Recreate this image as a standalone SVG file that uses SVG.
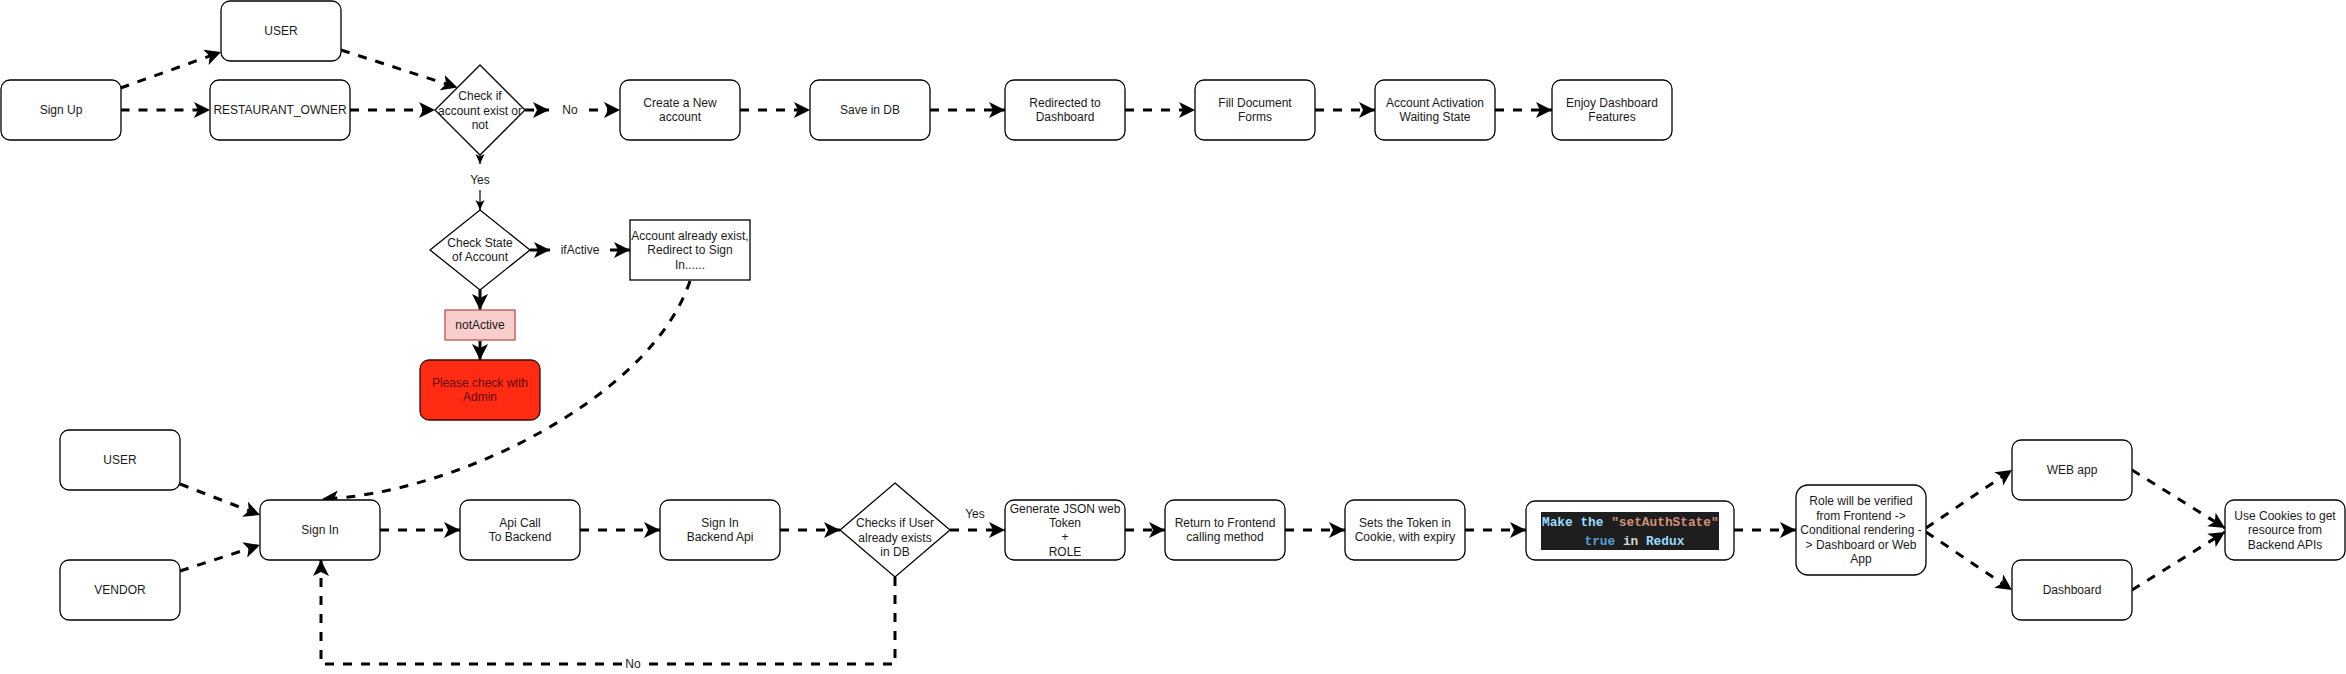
<svg xmlns="http://www.w3.org/2000/svg" width="2346" height="674" viewBox="0 0 2346 674">
<defs>
<style>
.box{fill:#fff;stroke:#000;stroke-width:1.3}
.t{font-family:"Liberation Sans",Arial,sans-serif;font-size:12px;fill:#1a1a1a;text-anchor:middle}
.d{fill:none;stroke:#000;stroke-width:3;stroke-dasharray:9 9}
.s{fill:none;stroke:#000;stroke-width:3}
.thin{fill:none;stroke:#000;stroke-width:1.2}
.code{font-family:"Liberation Mono","DejaVu Sans Mono",monospace;font-size:12.8px;font-weight:bold}
</style>
<marker id="ah" markerUnits="userSpaceOnUse" markerWidth="17" markerHeight="17" refX="16" refY="8" orient="auto" viewBox="0 0 17 17">
<path d="M0,0 L16,8 L0,16 L4,8 Z" fill="#000"/>
</marker>
<marker id="ahs" markerUnits="userSpaceOnUse" markerWidth="11" markerHeight="11" refX="10" refY="4.5" orient="auto" viewBox="0 0 11 11">
<path d="M0,0 L10,4.5 L0,9 L2.5,4.5 Z" fill="#000"/>
</marker>
</defs>
<rect width="2346" height="674" fill="#fff"/>

<g id="connectors">
<path class="d" d="M120.5,88 L221,52" marker-end="url(#ah)"/>
<path class="d" d="M120.5,110 L210,110" marker-end="url(#ah)"/>
<path class="d" d="M341,50 L457.5,87.5" marker-end="url(#ah)"/>
<path class="d" d="M350,110 L435,110" marker-end="url(#ah)"/>
<path class="d" d="M525,110 L549,110" marker-end="url(#ah)"/>
<path class="d" d="M589,110 L620,110" marker-end="url(#ah)"/>
<path class="d" d="M740,110 L810,110" marker-end="url(#ah)"/>
<path class="d" d="M930,110 L1005,110" marker-end="url(#ah)"/>
<path class="d" d="M1125,110 L1195,110" marker-end="url(#ah)"/>
<path class="d" d="M1315,110 L1375,110" marker-end="url(#ah)"/>
<path class="d" d="M1495,110 L1552,110" marker-end="url(#ah)"/>
<path class="thin" d="M480,155 L480,164" marker-end="url(#ahs)"/>
<path class="thin" d="M480,190 L480,210" marker-end="url(#ahs)"/>
<path class="s" d="M530,250 L550,250" marker-end="url(#ah)"/>
<path class="s" d="M610,250 L630,250" marker-end="url(#ah)"/>
<path class="s" d="M480,290 L480,310" marker-end="url(#ah)"/>
<path class="s" d="M480,341 L480,360" marker-end="url(#ah)"/>
<path class="d" d="M690,281 C650,400 450,495 322,499" marker-end="url(#ah)"/>
<path class="d" d="M180,484 L260,515" marker-end="url(#ah)"/>
<path class="d" d="M180,571 L260,545" marker-end="url(#ah)"/>
<path class="d" d="M380,530 L460,530" marker-end="url(#ah)"/>
<path class="d" d="M580,530 L660,530" marker-end="url(#ah)"/>
<path class="d" d="M780,530 L840,530" marker-end="url(#ah)"/>
<path class="d" d="M950,530 L1005,530" marker-end="url(#ah)"/>
<path class="d" d="M1125,530 L1165,530" marker-end="url(#ah)"/>
<path class="d" d="M1285,530 L1345,530" marker-end="url(#ah)"/>
<path class="d" d="M1465,530 L1526,530" marker-end="url(#ah)"/>
<path class="d" d="M1734,530 L1796,530" marker-end="url(#ah)"/>
<path class="d" d="M1926,528 L2012,470" marker-end="url(#ah)"/>
<path class="d" d="M1926,532 L2012,590" marker-end="url(#ah)"/>
<path class="d" d="M2132,470 L2225,528" marker-end="url(#ah)"/>
<path class="d" d="M2132,590 L2225,532" marker-end="url(#ah)"/>
<path class="d" d="M895,577 L895,664 L321,664 L321,560" marker-end="url(#ah)"/>
<rect x="623" y="657" width="20" height="14" fill="#fff"/>
<text class="t" x="633" y="668">No</text>
</g>

<g id="signup"><rect class="box" x="1" y="80" width="120" height="60" rx="9"/><text class="t" x="61" y="114">Sign Up</text></g>
<g id="user1"><rect class="box" x="221" y="1" width="120" height="60" rx="9"/><text class="t" x="281" y="35">USER</text></g>
<g id="owner"><rect class="box" x="210" y="80" width="140" height="60" rx="9"/><text class="t" x="280" y="114">RESTAURANT_OWNER</text></g>
<g id="check1"><path class="box" d="M480,65 L525,110 L480,155 L435,110 Z"/><text class="t" x="480" y="100.2">Check if</text><text class="t" x="480" y="114.6">account exist or</text><text class="t" x="480" y="129">not</text></g>
<g id="no1"><text class="t" x="570" y="114">No</text></g>
<g id="create"><rect class="box" x="620" y="80" width="120" height="60" rx="9"/><text class="t" x="680" y="107">Create a New</text><text class="t" x="680" y="121.4">account</text></g>
<g id="save"><rect class="box" x="810" y="80" width="120" height="60" rx="9"/><text class="t" x="870" y="114">Save in DB</text></g>
<g id="redirected"><rect class="box" x="1005" y="80" width="120" height="60" rx="9"/><text class="t" x="1065" y="107">Redirected to</text><text class="t" x="1065" y="121.4">Dashboard</text></g>
<g id="fill"><rect class="box" x="1195" y="80" width="120" height="60" rx="9"/><text class="t" x="1255" y="107">Fill Document</text><text class="t" x="1255" y="121.4">Forms</text></g>
<g id="activation"><rect class="box" x="1375" y="80" width="120" height="60" rx="9"/><text class="t" x="1435" y="107">Account Activation</text><text class="t" x="1435" y="121.4">Waiting State</text></g>
<g id="enjoy"><rect class="box" x="1552" y="80" width="120" height="60" rx="9"/><text class="t" x="1612" y="107">Enjoy Dashboard</text><text class="t" x="1612" y="121.4">Features</text></g>
<g id="yes1"><text class="t" x="480" y="184">Yes</text></g>
<g id="check2"><path class="box" d="M480,210 L530,250 L480,290 L430,250 Z"/><text class="t" x="480" y="247">Check State</text><text class="t" x="480" y="261.4">of Account</text></g>
<g id="ifactive"><text class="t" x="580" y="254">ifActive</text></g>
<g id="exist"><rect class="box" x="630" y="220" width="120" height="60"/><text class="t" x="690" y="239.8">Account already exist,</text><text class="t" x="690" y="254.2">Redirect to Sign</text><text class="t" x="690" y="268.6">In......</text></g>
<g id="notactive"><rect x="445" y="310" width="70" height="30" fill="#f8cecc" stroke="#b85450" stroke-width="1.3"/><text class="t" x="480" y="329">notActive</text></g>
<g id="admin"><rect x="420" y="360" width="120" height="60" rx="9" fill="#ff2b12" stroke="#3a0a0a" stroke-width="1.3"/><text class="t" x="480" y="387" style="fill:#6a0606">Please check with</text><text class="t" x="480" y="401.4" style="fill:#6a0606">Admin</text></g>

<g id="user2"><rect class="box" x="60" y="430" width="120" height="60" rx="9"/><text class="t" x="120" y="464">USER</text></g>
<g id="vendor"><rect class="box" x="60" y="560" width="120" height="60" rx="9"/><text class="t" x="120" y="594">VENDOR</text></g>
<g id="signin"><rect class="box" x="260" y="500" width="120" height="60" rx="9"/><text class="t" x="320" y="534">Sign In</text></g>
<g id="apicall"><rect class="box" x="460" y="500" width="120" height="60" rx="9"/><text class="t" x="520" y="527">Api Call</text><text class="t" x="520" y="541.4">To Backend</text></g>
<g id="backend"><rect class="box" x="660" y="500" width="120" height="60" rx="9"/><text class="t" x="720" y="527">Sign In</text><text class="t" x="720" y="541.4">Backend Api</text></g>
<g id="check3"><path class="box" d="M895,483 L950,530 L895,577 L840,530 Z"/><text class="t" x="895" y="527">Checks if User</text><text class="t" x="895" y="541.6">already exists</text><text class="t" x="895" y="556">in DB</text></g>
<g id="yes2"><text class="t" x="975" y="518">Yes</text></g>
<g id="jwt"><rect class="box" x="1005" y="500" width="120" height="60" rx="9"/><text class="t" x="1065" y="512.6">Generate JSON web</text><text class="t" x="1065" y="527">Token</text><text class="t" x="1065" y="541.4">+</text><text class="t" x="1065" y="555.8">ROLE</text></g>
<g id="return"><rect class="box" x="1165" y="500" width="120" height="60" rx="9"/><text class="t" x="1225" y="527">Return to Frontend</text><text class="t" x="1225" y="541.4">calling method</text></g>
<g id="cookie"><rect class="box" x="1345" y="500" width="120" height="60" rx="9"/><text class="t" x="1405" y="527">Sets the Token in</text><text class="t" x="1405" y="541.4">Cookie, with expiry</text></g>
<g id="redux"><rect class="box" x="1526" y="501" width="208" height="59" rx="9"/><rect x="1541" y="512" width="178" height="38" fill="#1e1e1e"/>
<text class="code" x="1542" y="526"><tspan fill="#9cdcfe">Make the </tspan><tspan fill="#ce9178">"setAuthState"</tspan></text>
<text class="code" x="1584.5" y="545"><tspan fill="#569cd6">true</tspan><tspan fill="#d4d4d4"> in </tspan><tspan fill="#9cdcfe">Redux</tspan></text></g>
<g id="role"><rect class="box" x="1796" y="485" width="130" height="90" rx="12"/><text class="t" x="1861" y="505.4">Role will be verified</text><text class="t" x="1861" y="519.8">from Frontend -&gt;</text><text class="t" x="1861" y="534.2">Conditional rendering -</text><text class="t" x="1861" y="548.6">&gt; Dashboard or Web</text><text class="t" x="1861" y="563">App</text></g>
<g id="webapp"><rect class="box" x="2012" y="440" width="120" height="60" rx="9"/><text class="t" x="2072" y="474">WEB app</text></g>
<g id="dashboard"><rect class="box" x="2012" y="560" width="120" height="60" rx="9"/><text class="t" x="2072" y="594">Dashboard</text></g>
<g id="usecookies"><rect class="box" x="2225" y="500" width="120" height="60" rx="9"/><text class="t" x="2285" y="519.8">Use Cookies to get</text><text class="t" x="2285" y="534.2">resource from</text><text class="t" x="2285" y="548.6">Backend APIs</text></g>
</svg>
